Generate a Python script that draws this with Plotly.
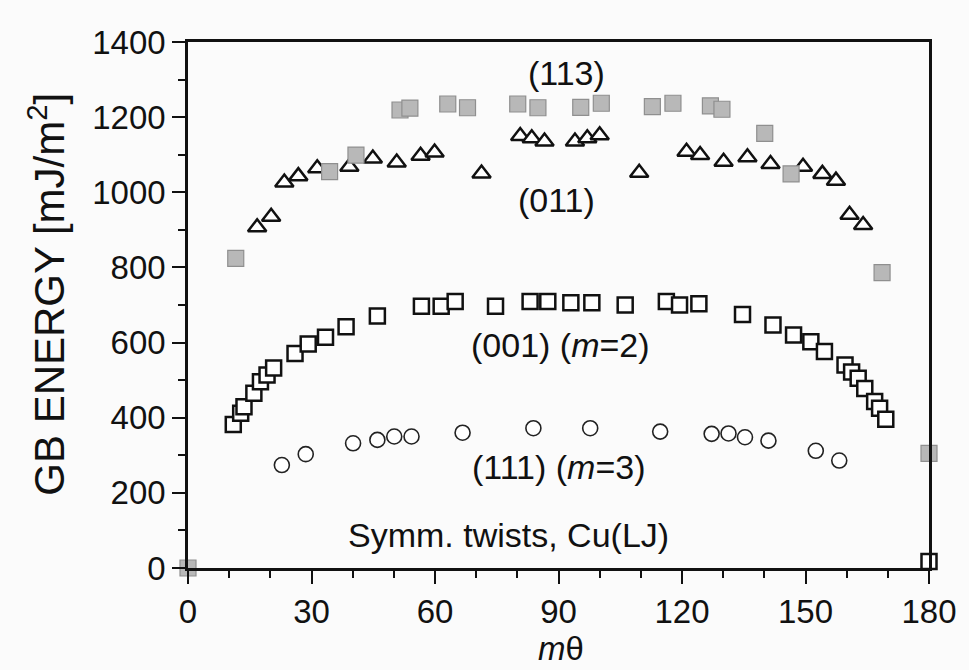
import plotly.graph_objects as go

# (113) gray filled squares
theta_113 = [0, 11.6, 34.4, 40.8, 51.5, 53.9, 63.1, 67.9, 80.1, 85.0, 95.4, 100.4,
             112.8, 117.8, 126.9, 129.7, 140.1, 146.5, 168.6, 180]
E_113 = [0, 824, 1055, 1099, 1219, 1224, 1235, 1225, 1235, 1225, 1226, 1237,
         1228, 1237, 1230, 1221, 1157, 1049, 786, 305]

# (011) open triangles
theta_011 = [16.8, 20.2, 23.4, 26.8, 31.4, 39.2, 44.9, 50.7, 56.5, 59.9, 71.3, 80.7,
             83.5, 86.6, 94.0, 97.0, 100.0, 109.6, 121.1, 124.4, 130.1, 135.9, 141.5,
             149.4, 154.1, 157.4, 160.7, 164.0]
E_011 = [907, 935, 1026, 1043, 1064, 1068, 1090, 1079, 1097, 1106, 1050, 1150,
         1144, 1135, 1135, 1144, 1152, 1052, 1108, 1099, 1081, 1093, 1075,
         1068, 1049, 1031, 940, 913]

# (001) open squares, m=2
theta_001 = [11.0, 12.8, 13.6, 16.0, 17.6, 19.2, 20.8, 26.0, 29.2, 33.4, 38.4, 46.0,
             56.7, 61.5, 64.9, 74.7, 83.1, 87.4, 93.0, 98.1, 106.2, 116.2, 119.4, 124.1,
             134.7, 142.1, 147.1, 151.3, 154.6, 159.6, 161.2, 162.8, 164.4, 166.8,
             168.0, 169.5, 180]
E_001 = [382, 412, 429, 465, 496, 514, 532, 571, 596, 614, 642, 671,
         697, 697, 709, 697, 709, 709, 706, 706, 700, 709, 700, 703,
         675, 647, 620, 602, 576, 540, 522, 505, 478, 443,
         425, 396, 17]

# (111) open circles, m=3
theta_111 = [22.8, 28.6, 40.1, 46.0, 50.1, 54.3, 66.7, 83.9, 97.7, 114.7, 127.2,
             131.3, 135.3, 141.0, 152.5, 158.2]
E_111 = [274, 303, 332, 341, 350, 350, 360, 372, 372, 363, 357,
         358, 348, 339, 312, 286]

x_ticks = [0, 30, 60, 90, 120, 150, 180]
y_ticks = [0, 200, 400, 600, 800, 1000, 1200, 1400]

FONT = "Liberation Sans, Arial, Helvetica, sans-serif"
BG = "#fbfbfb"

fig = go.Figure()
fig.add_trace(go.Scatter(
    x=theta_001, y=E_001, mode="markers", cliponaxis=False,
    marker=dict(symbol="square", size=15, color="white",
                line=dict(color="#111111", width=2.5))))
fig.add_trace(go.Scatter(
    x=theta_111, y=E_111, mode="markers", cliponaxis=False,
    marker=dict(symbol="circle", size=15, color="white",
                line=dict(color="#222222", width=1.6))))
fig.add_trace(go.Scatter(
    x=theta_011, y=E_011, mode="markers", cliponaxis=False,
    marker=dict(symbol="triangle-up", size=16, color="white",
                line=dict(color="#111111", width=2.5))))
fig.add_trace(go.Scatter(
    x=theta_113, y=E_113, mode="markers", cliponaxis=False,
    marker=dict(symbol="square", size=16, color="#b8b8b8",
                line=dict(color="#8f8f8f", width=1.2))))

ann_font = dict(family=FONT, size=34, color="#111111")
fig.add_annotation(x=91.9, y=1317, text="(113)", showarrow=False, font=ann_font)
fig.add_annotation(x=89.6, y=980, text="(011)", showarrow=False, font=ann_font)
fig.add_annotation(x=90.6, y=594, text="(001) (<i>m</i>=2)", showarrow=False, font=ann_font)
fig.add_annotation(x=90.2, y=270, text="(111) (<i>m</i>=3)", showarrow=False, font=ann_font)
fig.add_annotation(x=77.8, y=88, text="Symm. twists, Cu(LJ)", showarrow=False, font=ann_font)

# axis titles
fig.add_annotation(xref="paper", yref="paper", x=-0.19, y=0.52,
                   xanchor="center", yanchor="middle",
                   text="GB ENERGY [mJ/m<sup>2</sup>]", textangle=-90, showarrow=False,
                   font=dict(family=FONT, size=42, color="#111111"))
fig.add_annotation(xref="paper", yref="paper", x=0.503, y=-0.153,
                   xanchor="center", yanchor="middle",
                   text="<i>m</i>θ", showarrow=False,
                   font=dict(family=FONT, size=33, color="#111111"))

axis_common = dict(
    showgrid=False, zeroline=False, showline=True, linecolor="#111111", linewidth=2.5,
    mirror=True, ticks="outside", ticklen=13, tickwidth=2, tickcolor="#111111",
    tickfont=dict(family=FONT, size=33, color="#111111"),
)

fig.update_xaxes(range=[0, 180], tickvals=x_ticks, ticktext=[str(v) for v in x_ticks],
                 minor=dict(dtick=10, tick0=0, ticks="outside", ticklen=7, tickwidth=2,
                            tickcolor="#111111"),
                 **axis_common)
fig.update_yaxes(range=[0, 1400], tickvals=y_ticks, ticktext=[str(v) for v in y_ticks],
                 minor=dict(dtick=100, tick0=0, ticks="outside", ticklen=7, tickwidth=2,
                            tickcolor="#111111"),
                 **axis_common)

fig.update_layout(
    width=969, height=670, showlegend=False,
    margin=dict(l=188, r=29, t=42, b=102, pad=0),
    paper_bgcolor=BG, plot_bgcolor=BG,
    font=dict(family=FONT, color="#111111"),
)

fig.write_html("out.html")
